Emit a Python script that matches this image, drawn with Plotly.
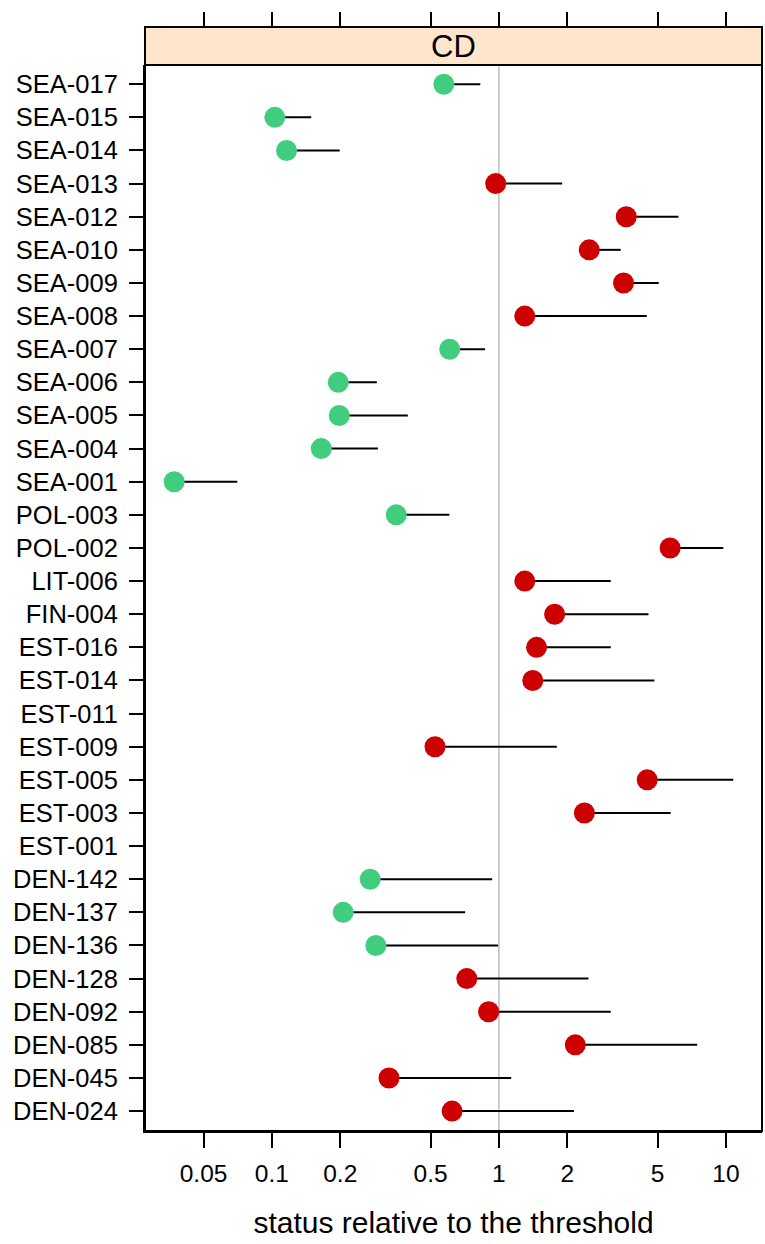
import plotly.graph_objects as go

# ---- data (top to bottom as in the chart) ----
stations = ["SEA-017", "SEA-015", "SEA-014", "SEA-013", "SEA-012", "SEA-010",
            "SEA-009", "SEA-008", "SEA-007", "SEA-006", "SEA-005", "SEA-004",
            "SEA-001", "POL-003", "POL-002", "LIT-006", "FIN-004", "EST-016",
            "EST-014", "EST-011", "EST-009", "EST-005", "EST-003", "EST-001",
            "DEN-142", "DEN-137", "DEN-136", "DEN-128", "DEN-092", "DEN-085",
            "DEN-045", "DEN-024"]
status = [0.572, 0.103, 0.116, 0.968, 3.64, 2.50,
          3.54, 1.30, 0.607, 0.196, 0.198, 0.165,
          0.0371, 0.353, 5.68, 1.30, 1.76, 1.465,
          1.41, None, 0.523, 4.50, 2.38, None,
          0.271, 0.206, 0.287, 0.722, 0.901, 2.17,
          0.328, 0.622]
upper = [0.828, 0.149, 0.199, 1.90, 6.18, 3.44,
         5.06, 4.48, 0.869, 0.290, 0.397, 0.293,
         0.0704, 0.605, 9.74, 3.11, 4.56, 3.11,
         4.84, None, 1.80, 10.77, 5.71, None,
         0.934, 0.710, 0.992, 2.48, 3.11, 7.47,
         1.133, 2.14]
threshold = 1.0
panel_label = "CD"
x_title = "status relative to the threshold"
tick_vals = [0.05, 0.1, 0.2, 0.5, 1, 2, 5, 10]
tick_text = ["0.05", "0.1", "0.2", "0.5", "1", "2", "5", "10"]

GREEN = "#41CD7E"
RED = "#CC0000"
FONT = "Liberation Sans, Arial, sans-serif"

# build segments from status to upper limit
seg_x, seg_y = [], []
for s, st, up in zip(stations, status, upper):
    if st is None:
        continue
    seg_x += [st, up, None]
    seg_y += [s, s, None]

colors = [RED if st is None else (GREEN if up < threshold else RED)
          for st, up in zip(status, upper)]

fig = go.Figure()
fig.add_trace(go.Scatter(x=seg_x, y=seg_y, mode="lines",
                         line=dict(color="black", width=2),
                         hoverinfo="skip", showlegend=False))
fig.add_trace(go.Scatter(x=status, y=stations, mode="markers",
                         marker=dict(size=21, color=colors, line=dict(width=0)),
                         showlegend=False))
# dummy trace to activate the top axis
fig.add_trace(go.Scatter(x=[threshold], y=[stations[0]], xaxis="x2", yaxis="y",
                         mode="markers", marker=dict(opacity=0),
                         hoverinfo="skip", showlegend=False))

n = len(stations)
W, H = 765, 1244
top_px, strip_bot_px, bottom_px = 27, 65, 1131
plot_h = bottom_px - top_px
ydom_top = (bottom_px - strip_bot_px) / plot_h

xrange_log = [-1.559, 1.159]

fig.update_layout(
    width=W, height=H,
    margin=dict(l=145, r=3, t=top_px, b=H - bottom_px, pad=0),
    paper_bgcolor="white", plot_bgcolor="white",
    font=dict(family=FONT, color="black", size=24),
    xaxis=dict(type="log", range=xrange_log, tickvals=tick_vals, ticktext=tick_text,
               ticks="outside", ticklen=15, tickwidth=2, tickcolor="black",
               showgrid=False, zeroline=False, showline=True, linecolor="black",
               linewidth=2, mirror=False, ticklabelstandoff=5,
               tickfont=dict(size=24.5, family=FONT),
               title=dict(text=x_title, font=dict(size=30, family=FONT), standoff=26)),
    xaxis2=dict(type="log", range=xrange_log, tickvals=tick_vals,
                overlaying="x", side="top", anchor="free", position=1,
                ticks="outside", ticklen=15, tickwidth=2, tickcolor="black",
                showticklabels=False, showgrid=False, zeroline=False, showline=False),
    yaxis=dict(type="category", categoryorder="array",
               categoryarray=list(reversed(stations)),
               range=[-0.6, n - 1 + 0.6 - 0.02], domain=[0, ydom_top],
               ticks="outside", ticklen=14, tickwidth=2, tickcolor="black",
               showgrid=False, zeroline=False, showline=True, linecolor="black",
               linewidth=2, tickfont=dict(size=25.5, family=FONT),
               ticklabelstandoff=6),
    shapes=[
        # reference line at threshold
        dict(type="line", xref="x", yref="y domain", x0=threshold, x1=threshold,
             y0=0, y1=1, line=dict(color="#BEBEBE", width=1.5), layer="below"),
        # panel border
        dict(type="rect", xref="paper", yref="paper", x0=0, x1=1, y0=0, y1=ydom_top,
             line=dict(color="black", width=2), fillcolor="rgba(0,0,0,0)"),
        # strip
        dict(type="rect", xref="paper", yref="paper", x0=0, x1=1, y0=ydom_top, y1=1,
             line=dict(color="black", width=2), fillcolor="#FFE5CC", layer="above"),
    ],
    annotations=[dict(text=panel_label, xref="paper", yref="paper", x=0.5,
                      y=(1 + ydom_top) / 2, showarrow=False,
                      font=dict(size=31, family=FONT, color="black"),
                      xanchor="center", yanchor="middle")],
)

fig.write_html("out.html", config={"displayModeBar": False},
               post_script="document.body.style.margin='0px';document.body.style.overflow='hidden';")
